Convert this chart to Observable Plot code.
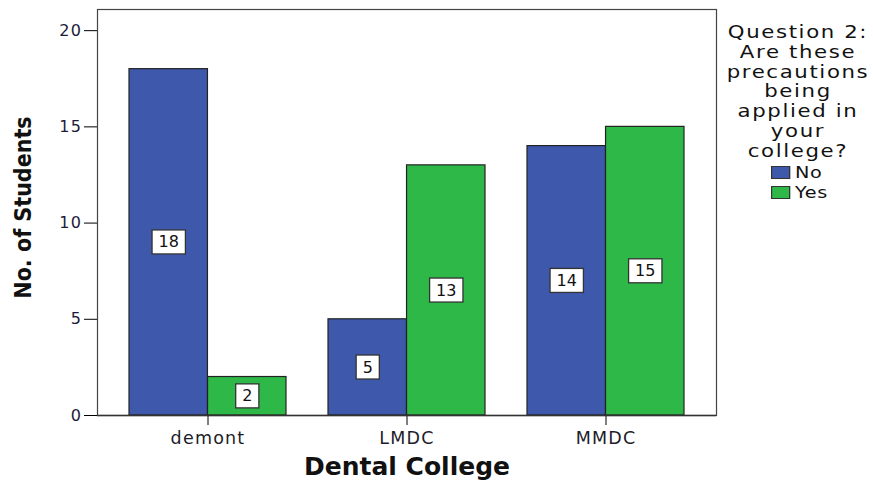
<!DOCTYPE html>
<html><head><meta charset="utf-8">
<script src="https://cdn.jsdelivr.net/npm/d3@7"></script>
<script src="https://cdn.jsdelivr.net/npm/@observablehq/plot@0.6"></script>
<style>
body{margin:0;background:#fff;overflow:hidden;}
#wrap{position:relative;width:873px;height:480px;font-family:"DejaVu Sans",sans-serif;}
#wrap svg{position:absolute;left:0;top:0;}
g[aria-label^="y-axis"] text{font-size:16px;letter-spacing:1.5px;fill:#1c1c3a;}
g[aria-label^="x-axis"] text{font-size:17.5px;letter-spacing:1.2px;fill:#1c1c2a;}
#legend{position:absolute;left:718px;width:160px;top:23px;text-align:center;font-size:17px;line-height:19.8px;letter-spacing:1.3px;color:#111;transform:scaleX(1.25);transform-origin:80px 0;}
#items{position:absolute;left:771px;top:163px;font-size:16px;line-height:19.5px;letter-spacing:0.5px;color:#111;transform:scaleX(1.2);transform-origin:0 0;}
.item{display:flex;align-items:center;height:19.5px;}
.sw{width:16px;height:13px;border:1.5px solid #333;margin-right:4px;box-sizing:border-box;}
</style></head><body><div id="wrap"></div>
<script>
const colleges = ["demont", "LMDC", "MMDC"];
const answers = ["No", "Yes"];
const noCounts = [18, 5, 14];
const yesCounts = [2, 13, 15];
const yTicks = [0, 5, 10, 15, 20];
const colors = ["#3e58ac", "#2eb848"];
const legendTitle = ["Question 2:", "Are these", "precautions", "being", "applied in", "your", "college?"];

const data = colleges.flatMap((c, i) => [
  {college: c, answer: answers[0], count: noCounts[i]},
  {college: c, answer: answers[1], count: yesCounts[i]}
]);
const noData = data.filter(d => d.answer === "No");
const yesData = data.filter(d => d.answer === "Yes");

const W = 873, H = 480, mL = 97, mR = 157, mT = 9, mB = 65;
const pIn = 0.211, pOut = 0.16;
const step = (W - mL - mR) / (colleges.length - pIn + 2 * pOut);
const half = step * (1 - pIn) / 2;

const chart = Plot.plot({
  width: W, height: H,
  marginLeft: mL, marginRight: mR, marginTop: mT, marginBottom: mB,
  style: {fontFamily: "DejaVu Sans, sans-serif", fontSize: "16px", background: "white"},
  x: {domain: colleges, paddingInner: pIn, paddingOuter: pOut, label: null, tickSize: 10, tickPadding: 6},
  y: {domain: [0, 21.1], ticks: yTicks, tickSize: 13, tickPadding: 2, label: null},
  color: {domain: answers, range: colors},
  marks: [
    Plot.barY(noData, {x: "college", y: "count", fill: "answer", stroke: "#222", strokeWidth: 1.2, insetRight: half}),
    Plot.barY(yesData, {x: "college", y: "count", fill: "answer", stroke: "#222", strokeWidth: 1.2, insetLeft: half}),
    Plot.frame({stroke: "#444", strokeWidth: 1.2}),
    Plot.ruleY([0], {stroke: "#333", strokeWidth: 1.4}),
    Plot.text(noData, {x: "college", y: d => d.count / 2, text: d => String(d.count), dx: -half / 2, fontSize: 16, fill: "#111"}),
    Plot.text(yesData, {x: "college", y: d => d.count / 2, text: d => String(d.count), dx: half / 2, fontSize: 16, fill: "#111"}),
    Plot.text(["No. of Students"], {frameAnchor: "left", textAnchor: "middle", lineAnchor: "middle", rotate: -90, dx: -74, dy: -5, text: d => d, fontSize: 23, fontWeight: "bold", fontFamily: "DejaVu Sans Condensed, DejaVu Sans, sans-serif", fill: "#111"}),
    Plot.text(["Dental College"], {frameAnchor: "bottom", textAnchor: "middle", lineAnchor: "middle", dy: 51, text: d => d, fontSize: 25, fontWeight: "bold", fill: "#111"})
  ]
});

const wrap = document.getElementById("wrap");
wrap.appendChild(chart);

// white boxes behind value labels
const NS = "http://www.w3.org/2000/svg";
const valueSet = new Set([...noCounts, ...yesCounts].map(String));
chart.querySelectorAll('g[aria-label="text"] text').forEach(t => {
  if (!valueSet.has(t.textContent.trim())) return;
  const b = t.getBBox();
  const r = document.createElementNS(NS, "rect");
  const px = 6.5, py = 2.5;
  r.setAttribute("x", b.x - px);
  r.setAttribute("y", b.y - py);
  r.setAttribute("width", b.width + 2 * px);
  r.setAttribute("height", b.height + 2 * py);
  r.setAttribute("fill", "white");
  r.setAttribute("stroke", "#333");
  r.setAttribute("stroke-width", "1.3");
  const tr = t.getAttribute("transform");
  if (tr) r.setAttribute("transform", tr);
  t.parentNode.insertBefore(r, t);
});

// legend
const leg = document.createElement("div");
leg.id = "legend";
leg.innerHTML = legendTitle.join("<br>");
wrap.appendChild(leg);
const items = document.createElement("div");
items.id = "items";
answers.forEach((a, i) => {
  const it = document.createElement("div");
  it.className = "item";
  const sw = document.createElement("div");
  sw.className = "sw";
  sw.style.background = colors[i];
  const lab = document.createElement("span");
  lab.textContent = a;
  it.appendChild(sw); it.appendChild(lab);
  items.appendChild(it);
});
wrap.appendChild(items);
</script></body></html>
